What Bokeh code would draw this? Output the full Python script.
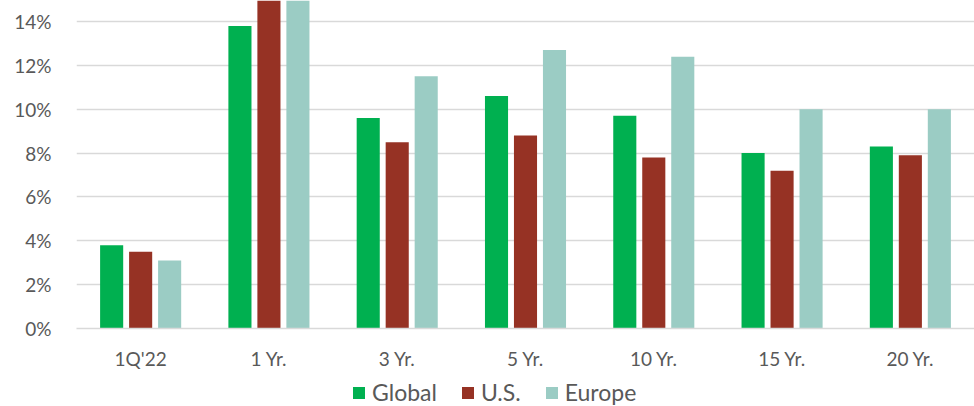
from bokeh.plotting import figure
from bokeh.layouts import column
from bokeh.models import ColumnDataSource, FactorRange, Range1d, FixedTicker, PrintfTickFormatter, Legend, LegendItem
from bokeh.transform import dodge
from bokeh.embed import file_html
from bokeh.resources import INLINE

categories = ["1Q'22", "1 Yr.", "3 Yr.", "5 Yr.", "10 Yr.", "15 Yr.", "20 Yr."]
global_vals = [3.8, 13.8, 9.6, 10.6, 9.7, 8.0, 8.3]
us_vals = [3.5, 16.0, 8.5, 8.8, 7.8, 7.2, 7.9]
europe_vals = [3.1, 16.5, 11.5, 12.7, 12.4, 10.0, 10.0]
series_names = ["Global", "U.S.", "Europe"]
series_colors = ["#00B050", "#963224", "#9BCCC4"]
y_ticks = [0, 2, 4, 6, 8, 10, 12, 14]

src = ColumnDataSource(dict(cat=categories, g=global_vals, u=us_vals, e=europe_vals))

p = figure(x_range=FactorRange(*categories, range_padding=0), y_range=Range1d(0, 14.96),
           frame_width=898, frame_height=328, output_backend="svg", toolbar_location=None,
           min_border_left=76, min_border_right=0, min_border_top=0, min_border_bottom=0)

offs = [-0.226, 0.0, 0.226]
cols = ["g", "u", "e"]
for c, o, color in zip(cols, offs, series_colors):
    p.vbar(x=dodge("cat", o, range=p.x_range), top=c, width=0.18, source=src,
           fill_color=color, line_color=None)

p.outline_line_color = None
p.xgrid.grid_line_color = None
p.ygrid.grid_line_color = "#D9D9D9"
p.ygrid.grid_line_width = 1.5
p.yaxis.ticker = FixedTicker(ticks=y_ticks)
p.yaxis.formatter = PrintfTickFormatter(format="%d%%")
p.yaxis.axis_line_color = None
p.yaxis.major_tick_line_color = None
p.yaxis.minor_tick_line_color = None
p.yaxis.major_label_standoff = 19
p.xaxis.axis_line_color = "#D9D9D9"
p.xaxis.axis_line_width = 1.5
p.xaxis.major_tick_line_color = None
p.xaxis.major_tick_out = 0
p.xaxis.major_label_standoff = 18
for ax in (p.xaxis, p.yaxis):
    ax.major_label_text_font = "Lato"
    ax.major_label_text_font_size = "19px"
    ax.major_label_text_color = "#595959"

# legend strip below the chart (same series, drawn out of view so only the legend shows)
lg = figure(width=974, height=36, x_range=p.x_range, y_range=Range1d(20, 21),
            x_axis_type=None, y_axis_type=None, output_backend="svg", toolbar_location=None,
            min_border_left=76, min_border_right=0, min_border_top=0, min_border_bottom=0)
lg.outline_line_color = None
lg.grid.visible = False
lrends = [lg.vbar(x=dodge("cat", o, range=p.x_range), top=c, width=0.18, source=src,
                  fill_color=color, line_color=None)
          for c, o, color in zip(cols, offs, series_colors)]
legend = Legend(items=[LegendItem(label=n, renderers=[r]) for n, r in zip(series_names, lrends)],
                orientation="horizontal", location=(275, 2),
                label_text_font="Lato", label_text_font_size="23px", label_text_color="#595959",
                label_height=20,
                glyph_width=15, glyph_height=15, label_standoff=6, spacing=23,
                padding=0, margin=0, border_line_color=None, background_fill_alpha=0)
lg.add_layout(legend, "center")

layout = column(p, lg, spacing=0)
open("out.html", "w").write(file_html(layout, INLINE))
